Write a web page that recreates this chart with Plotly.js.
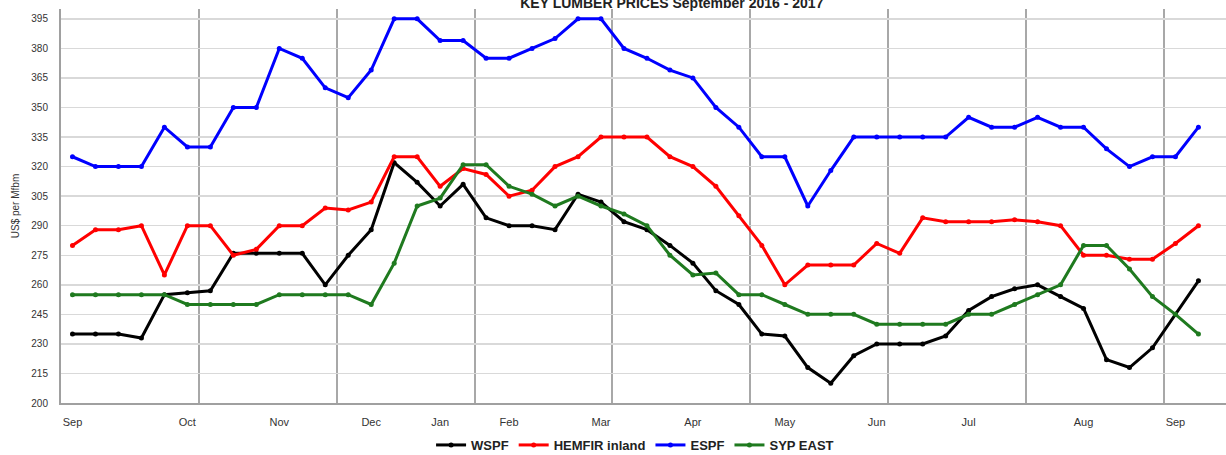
<!DOCTYPE html>
<html>
<head>
<meta charset="utf-8">
<script src="https://cdn.plot.ly/plotly-3.0.1.min.js"></script>
<style>
  html, body { margin: 0; padding: 0; background: #ffffff; }
  #chart { width: 1226px; height: 455px; }
</style>
</head>
<body>
<div id="chart"></div>
<script>
// Weekly observations, Sep 2016 - Sep 2017 (week index along the category axis)
const weeks = [0,1,2,3,4,5,6,7,8,9,10,11,12,13,14,15,16,17,18,19,20,21,22,23,24,
               25,26,27,28,29,30,31,32,33,34,35,36,37,38,39,40,41,42,43,44,45,46,47,48,49];

// Month tick labels and the week at which each is shown
const monthWeeks  = [0, 5, 9, 13, 16, 19, 23, 27, 31, 35, 39, 44, 48];
const monthLabels = ["Sep","Oct","Nov","Dec","Jan","Feb","Mar","Apr","May","Jun","Jul","Aug","Sep"];

// US$ per Mfbm
const wspf = [235,235,235,233,255,256,257,276,276,276,276,260,275,288,322,312,300,311,294,290,
              290,288,306,302,292,288,280,271,257,250,235,234,218,210,224,230,230,230,234,247,
              254,258,260,254,248,222,218,228,245,262];
const hemfir = [280,288,288,290,265,290,290,275,278,290,290,299,298,302,325,325,310,319,316,305,
                308,320,325,335,335,335,325,320,310,295,280,260,270,270,270,281,276,294,292,292,
                292,293,292,290,275,275,273,273,281,290];
const espf = [325,320,320,320,340,330,330,350,350,380,375,360,355,369,395,395,384,384,375,375,
              380,385,395,395,380,375,369,365,350,340,325,325,300,318,335,335,335,335,335,345,
              340,340,345,340,340,329,320,325,325,340];
const sypEast = [255,255,255,255,255,250,250,250,250,255,255,255,255,250,271,300,304,321,321,310,
                 306,300,305,300,296,290,275,265,266,255,255,250,245,245,245,240,240,240,240,245,
                 245,250,255,260,280,280,268,254,245,235];

const seriesNames  = ["WSPF", "HEMFIR inland", "ESPF", "SYP EAST"];
const seriesValues = [wspf, hemfir, espf, sypEast];
const seriesColors = ["#000000", "#ff0000", "#0000ff", "#1f7a1f"];

const traces = seriesValues.map((vals, i) => ({
  type: "scatter",
  mode: "lines+markers",
  name: seriesNames[i],
  x: weeks,
  y: vals,
  line: { color: seriesColors[i], width: 3 },
  marker: { color: seriesColors[i], size: 5 },
  hoverinfo: "x+y+name"
}));

const layout = {
  width: 1226,
  height: 455,
  paper_bgcolor: "#ffffff",
  plot_bgcolor: "#ffffff",
  margin: { l: 61, r: 0, t: 9, b: 52, autoexpand: false },
  font: { family: "Liberation Sans, Arial, sans-serif", size: 11, color: "#333333" },
  title: {
    text: "<b>KEY LUMBER PRICES September 2016 - 2017</b>",
    font: { family: "Liberation Sans, Arial, sans-serif", size: 14, color: "#222222" },
    xref: "container", yref: "container",
    x: 0.548, xanchor: "center",
    y: 0.993, yanchor: "middle"
  },
  xaxis: {
    range: [-0.5, 50.2],
    tickmode: "array",
    tickvals: monthWeeks,
    ticktext: monthLabels,
    showgrid: false,
    zeroline: false,
    ticks: "",
    ticklabelstandoff: 8,
    tickfont: { size: 11, color: "#333333" },
    showline: true,
    linecolor: "#a0a0a0",
    linewidth: 2,
    minor: {
      tick0: 5.5,
      dtick: 6,
      showgrid: true,
      gridcolor: "#a8a8a8",
      gridwidth: 2,
      ticks: ""
    },
    fixedrange: true
  },
  yaxis: {
    range: [200, 400],
    tick0: 200,
    dtick: 15,
    tickmode: "linear",
    showgrid: true,
    gridcolor: "#d9d9d9",
    gridwidth: 1.5,
    zeroline: false,
    ticks: "",
    ticklabelstandoff: 9,
    tickfont: { size: 10, color: "#333333" },
    showline: true,
    linecolor: "#a0a0a0",
    linewidth: 2,
    mirror: true,
    title: {
      text: "US$ per Mfbm",
      font: { size: 10, color: "#333333" },
      standoff: 10
    },
    fixedrange: true
  },
  showlegend: true,
  legend: {
    orientation: "h",
    xref: "container", yref: "container",
    x: 0.518, xanchor: "center",
    y: 0.022, yanchor: "middle",
    font: { size: 13, color: "#222222", weight: "bold", family: "Liberation Sans, Arial, sans-serif" },
    itemwidth: 30,
    bgcolor: "rgba(0,0,0,0)"
  }
};

Plotly.newPlot("chart", traces, layout, { displayModeBar: false, staticPlot: true });
</script>
</body>
</html>
